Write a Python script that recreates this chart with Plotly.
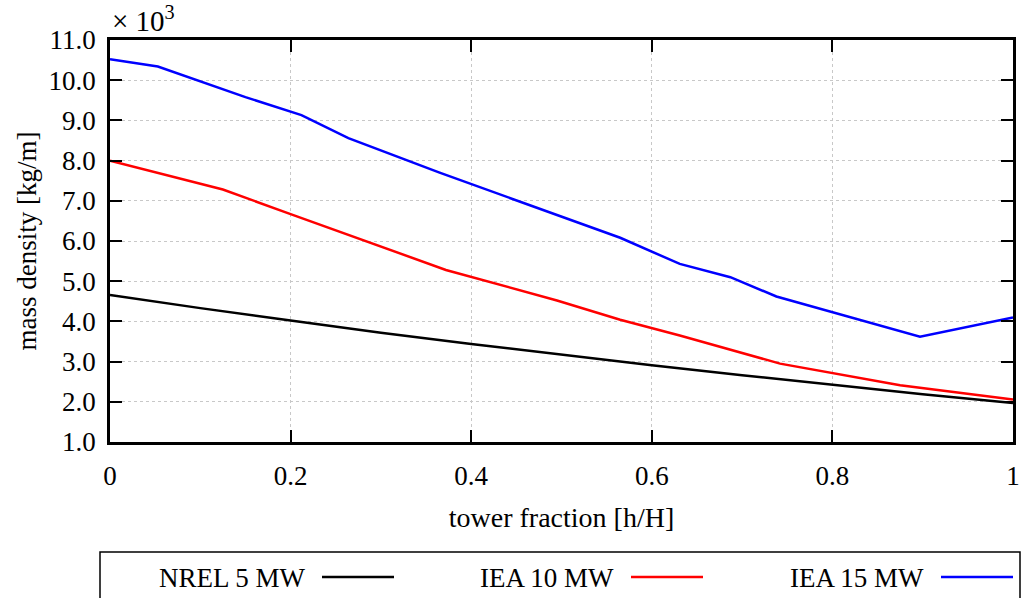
import plotly.graph_objects as go

# ---- data (values in units of 10^3 kg/m) ----
series_names = ["NREL 5 MW", "IEA 10 MW", "IEA 15 MW"]
series_colors = ["#000000", "#ff0000", "#0000ff"]

x_nrel5 = [0, 0.1, 0.2, 0.3, 0.4, 0.5, 0.6, 0.7, 0.8, 0.9, 1.0]
y_nrel5 = [4.66, 4.33, 4.02, 3.72, 3.44, 3.17, 2.91, 2.66, 2.42, 2.19, 1.97]

x_iea10 = [0, 0.125, 0.2, 0.27, 0.372, 0.495, 0.565, 0.631, 0.742, 0.875, 1.0]
y_iea10 = [8.0, 7.28, 6.67, 6.1, 5.28, 4.52, 4.04, 3.65, 2.95, 2.41, 2.06]

x_iea15 = [0, 0.053, 0.15, 0.212, 0.264, 0.365, 0.465, 0.565, 0.631, 0.687, 0.738, 0.897, 1.0]
y_iea15 = [10.52, 10.34, 9.58, 9.13, 8.56, 7.70, 6.89, 6.08, 5.43, 5.10, 4.62, 3.62, 4.10]

x_ticks = [0, 0.2, 0.4, 0.6, 0.8, 1.0]
x_tick_labels = ["0", "0.2", "0.4", "0.6", "0.8", "1"]
y_ticks = [1, 2, 3, 4, 5, 6, 7, 8, 9, 10, 11]
y_tick_labels = ["1.0", "2.0", "3.0", "4.0", "5.0", "6.0", "7.0", "8.0", "9.0", "10.0", "11.0"]

x_title = "tower fraction [h/H]"
y_title = "mass density [kg/m]"
scale_label = "× 10<sup>3</sup>"

FONT = "Liberation Serif, Times New Roman, serif"

fig = go.Figure()
for xs, ys, name, col in zip([x_nrel5, x_iea10, x_iea15],
                             [y_nrel5, y_iea10, y_iea15],
                             series_names, series_colors):
    fig.add_trace(go.Scatter(x=xs, y=ys, mode="lines", name=name,
                             line=dict(color=col, width=2.5),
                             showlegend=False, hoverinfo="x+y+name"))

axis_common = dict(
    showline=True, linecolor="black", linewidth=2.5, mirror="ticks",
    ticks="inside", ticklen=12, tickwidth=2, tickcolor="black",
    showgrid=True, gridcolor="#c8c8c8", griddash="dot", gridwidth=1,
    zeroline=False, automargin=False,
    tickfont=dict(family=FONT, size=27, color="black"),
)

fig.update_xaxes(range=[0, 1], tickvals=x_ticks, ticktext=x_tick_labels,
                 title=dict(text=x_title, font=dict(family=FONT, size=28, color="black"),
                            standoff=18),
                 ticklabelstandoff=8, **axis_common)
fig.update_yaxes(range=[1, 11], tickvals=y_ticks, ticktext=y_tick_labels,
                 title=dict(text=y_title, font=dict(family=FONT, size=27, color="black"),
                            standoff=5),
                 ticklabelstandoff=6, **axis_common)

# scale annotation
fig.add_annotation(text=scale_label, xref="paper", yref="paper", x=0.0, y=1.0,
                   xanchor="left", yanchor="bottom", yshift=1, xshift=0, showarrow=False,
                   font=dict(family=FONT, size=29, color="black"))

# custom legend (text followed by line sample), in paper coordinates
L, T, B = 110, 40, 442
W, H = 903, 402
def px(xp):
    return (xp - L) / W
def py(yp):
    return (B - yp) / H

fig.add_shape(type="rect", xref="paper", yref="paper",
              x0=px(100), x1=px(1020), y0=py(552), y1=py(640),
              line=dict(color="black", width=1.5), fillcolor="rgba(0,0,0,0)")

text_right = [307, 616, 926]
for name, col, tr in zip(series_names, series_colors, text_right):
    fig.add_annotation(text=name, xref="paper", yref="paper", x=px(tr), y=py(578),
                       xanchor="right", yanchor="middle", showarrow=False,
                       font=dict(family=FONT, size=27, color="black"))
    fig.add_shape(type="line", xref="paper", yref="paper",
                  x0=px(tr + 15), x1=px(tr + 87), y0=py(577), y1=py(577),
                  line=dict(color=col, width=2.5))

fig.update_layout(
    width=1025, height=598,
    margin=dict(l=110, r=12, t=40, b=156),
    plot_bgcolor="white", paper_bgcolor="white",
    font=dict(family=FONT, color="black"),
)

fig.write_html("out.html")
